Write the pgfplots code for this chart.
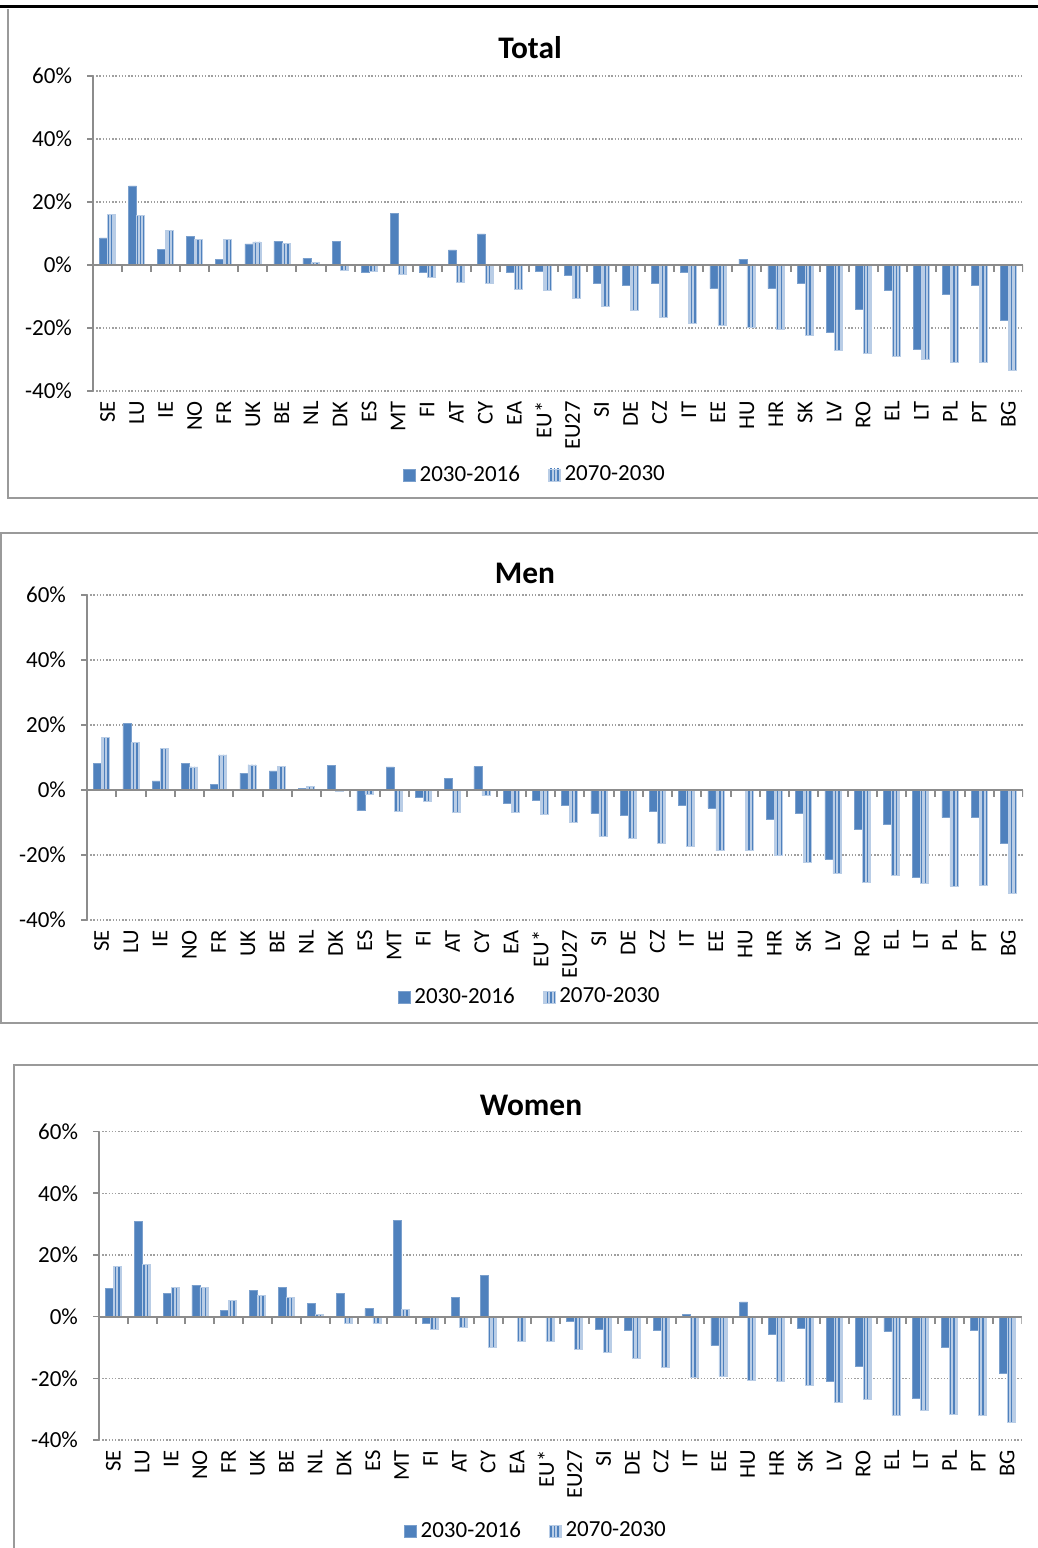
\documentclass[border=0pt]{standalone}
\usepackage{fontspec}
\setmainfont{Carlito}
\usepackage{pgfplots}
\usepackage{pgfplotstable}
\pgfplotsset{compat=1.18}
\usetikzlibrary{patterns.meta}
\definecolor{barblue}{HTML}{4F81BD}
\definecolor{stripebg}{HTML}{B9CDE6}
\definecolor{framegray}{HTML}{9A9A9A}
\definecolor{axisgray}{HTML}{8C8C8C}

\pgfplotstableread{
x a b
0 8.6 16.1
1 25.1 15.7
2 4.9 11.0
3 9.0 8.1
4 1.8 8.0
5 6.7 7.3
6 7.5 6.8
7 2.1 0.8
8 7.4 -1.7
9 -2.3 -2.1
10 16.5 -2.9
11 -2.3 -3.8
12 4.8 -5.4
13 9.9 -5.9
14 -2.4 -7.7
15 -2.0 -7.9
16 -3.4 -10.6
17 -5.9 -13.1
18 -6.5 -14.4
19 -5.7 -16.5
20 -2.4 -18.6
21 -7.5 -19.2
22 1.9 -19.9
23 -7.5 -20.5
24 -5.7 -22.4
25 -21.4 -27.0
26 -14.1 -28.0
27 -8.1 -29.1
28 -26.8 -29.8
29 -9.2 -30.8
30 -6.3 -30.8
31 -17.5 -33.3
}\totaldata

\pgfplotstableread{
x a b
0 8.2 16.3
1 20.5 14.6
2 2.8 12.7
3 8.1 7.1
4 1.6 10.8
5 5.2 7.7
6 5.9 7.3
7 0.5 1.1
8 7.6 -0.5
9 -6.4 -1.4
10 7.1 -6.7
11 -2.3 -3.5
12 3.6 -6.9
13 7.2 -1.7
14 -4.1 -7.0
15 -3.3 -7.5
16 -4.6 -9.9
17 -7.2 -14.3
18 -7.8 -15.0
19 -6.7 -16.3
20 -4.6 -17.4
21 -5.6 -18.7
22 -0.2 -18.7
23 -9.0 -20.0
24 -7.2 -22.1
25 -21.3 -25.7
26 -12.1 -28.4
27 -10.7 -26.2
28 -26.9 -28.6
29 -8.5 -29.6
30 -8.3 -29.4
31 -16.4 -31.9
}\mendata

\pgfplotstableread{
x a b
0 9.1 16.2
1 31.0 17.0
2 7.6 9.4
3 10.2 9.4
4 2.1 5.3
5 8.5 7.0
6 9.6 6.3
7 4.4 0.8
8 7.6 -2.2
9 2.6 -2.2
10 31.1 2.4
11 -2.2 -4.0
12 6.2 -3.6
13 13.3 -9.9
14 0.0 -8.1
15 -0.2 -8.1
16 -1.6 -10.7
17 -4.1 -11.5
18 -4.5 -13.5
19 -4.3 -16.4
20 0.8 -19.8
21 -9.3 -19.2
22 4.8 -20.5
23 -5.6 -21.0
24 -3.8 -22.3
25 -21.1 -27.8
26 -16.2 -26.9
27 -4.8 -32.1
28 -26.4 -30.5
29 -10.1 -31.8
30 -4.3 -31.9
31 -18.4 -34.4
}\womendata

\tikzset{zeroline/.style={axisgray, line width=1pt}}

\pgfplotsset{
 panel/.style={
  scale only axis, anchor=south west,
  ybar=0pt, bar width=4pt,
  xmin=-0.5, xmax=31.5, ymin=-40, ymax=60, enlargelimits=false,
  axis y line=left, axis x line=bottom,
  x axis line style={draw=none},
  y axis line style={axisgray, line width=0.8pt, -},
  xtick={0,...,31},
  xticklabels={SE,LU,IE,NO,FR,UK,BE,NL,DK,ES,MT,FI,AT,CY,EA,EU*,EU27,SI,DE,CZ,IT,EE,HU,HR,SK,LV,RO,EL,LT,PL,PT,BG},
  xtick style={draw=none},
  x tick label style={rotate=90, anchor=east, font=\fontsize{11.3}{13}\selectfont, inner sep=2pt},
  ytick={-40,-20,0,20,40,60},
  yticklabels={-40\%,-20\%,0\%,20\%,40\%,60\%},
  y tick label style={font=\fontsize{11.5}{13}\selectfont, xshift=-4pt},
  ytick style={axisgray, line width=0.8pt},
  tick align=outside, major tick length=3pt,
  ymajorgrids, major grid style={gray!75, line width=0.6pt, dash pattern=on 0.7pt off 0.9pt},
  legend columns=2,
  legend style={draw=none, fill=none, font=\fontsize{11.5}{13}\selectfont, anchor=center,
    /tikz/every even column/.append style={column sep=12pt}},
  legend cell align=left,
 },
 dark/.style={fill=barblue, draw=barblue!75!white, line width=0.3pt,
   legend image code/.code={\path[fill=barblue] (0pt,-3pt) rectangle (6pt,3pt);}},
 striped/.style={fill=stripebg, draw=stripebg, line width=0.3pt,
   postaction={pattern={Lines[angle=90,distance=1.8pt,line width=0.7pt]}, pattern color=barblue},
   legend image code/.code={\path[fill=stripebg, postaction={pattern={Lines[angle=90,distance=1.8pt,line width=0.7pt]}, pattern color=barblue}] (0pt,-3pt) rectangle (6pt,3pt);}},
}

\begin{document}
\begin{tikzpicture}
\path[use as bounding box] (0,0) rectangle (519pt,774pt);
% frames
\draw[black, line width=1.6pt] (0pt,770.8pt) -- (519pt,770.8pt);
\draw[framegray, line width=0.8pt] (4pt,769.5pt) -- (4pt,525pt) -- (522pt,525pt);
\draw[framegray, line width=0.8pt] (522pt,507.5pt) -- (0.6pt,507.5pt) -- (0.6pt,262.5pt) -- (522pt,262.5pt);
\draw[framegray, line width=0.8pt] (522pt,241.5pt) -- (7pt,241.5pt) -- (7pt,-3pt);

% Total
\begin{axis}[panel, at={(46.5pt,578.5pt)}, width=465pt, height=157.5pt,
  legend style={at={(0.4763,-0.2667)}}]
\addplot[dark] table[x=x,y=a]{\totaldata};
\addplot[striped] table[x=x,y=b]{\totaldata};
\legend{2030-2016,2070-2030}
\draw[zeroline] (axis cs:-0.5,0) -- (axis cs:31.5,0);
\pgfplotsinvokeforeach{0.5,1.5,...,31.5}{\draw[zeroline] (axis cs:#1,0) -- ++(0pt,-3.5pt);}
\end{axis}
\node[font=\bfseries\fontsize{15.7}{18}\selectfont] at (265pt,750pt) {Total};

% Men
\begin{axis}[panel, at={(43.5pt,314pt)}, width=468pt, height=162.5pt,
  legend style={at={(0.474,-0.237)}}]
\addplot[dark] table[x=x,y=a]{\mendata};
\addplot[striped] table[x=x,y=b]{\mendata};
\legend{2030-2016,2070-2030}
\draw[zeroline] (axis cs:-0.5,0) -- (axis cs:31.5,0);
\pgfplotsinvokeforeach{0.5,1.5,...,31.5}{\draw[zeroline] (axis cs:#1,0) -- ++(0pt,-3.5pt);}
\end{axis}
\node[font=\bfseries\fontsize{15.7}{18}\selectfont] at (262.5pt,487.5pt) {Men};

% Women
\begin{axis}[panel, at={(49.5pt,54pt)}, width=461.3pt, height=154.2pt,
  legend style={at={(0.4747,-0.295)}}]
\addplot[dark] table[x=x,y=a]{\womendata};
\addplot[striped] table[x=x,y=b]{\womendata};
\legend{2030-2016,2070-2030}
\draw[zeroline] (axis cs:-0.5,0) -- (axis cs:31.5,0);
\pgfplotsinvokeforeach{0.5,1.5,...,31.5}{\draw[zeroline] (axis cs:#1,0) -- ++(0pt,-3.5pt);}
\end{axis}
\node[font=\bfseries\fontsize{15.7}{18}\selectfont] at (265.5pt,221.5pt) {Women};
\end{tikzpicture}
\end{document}
